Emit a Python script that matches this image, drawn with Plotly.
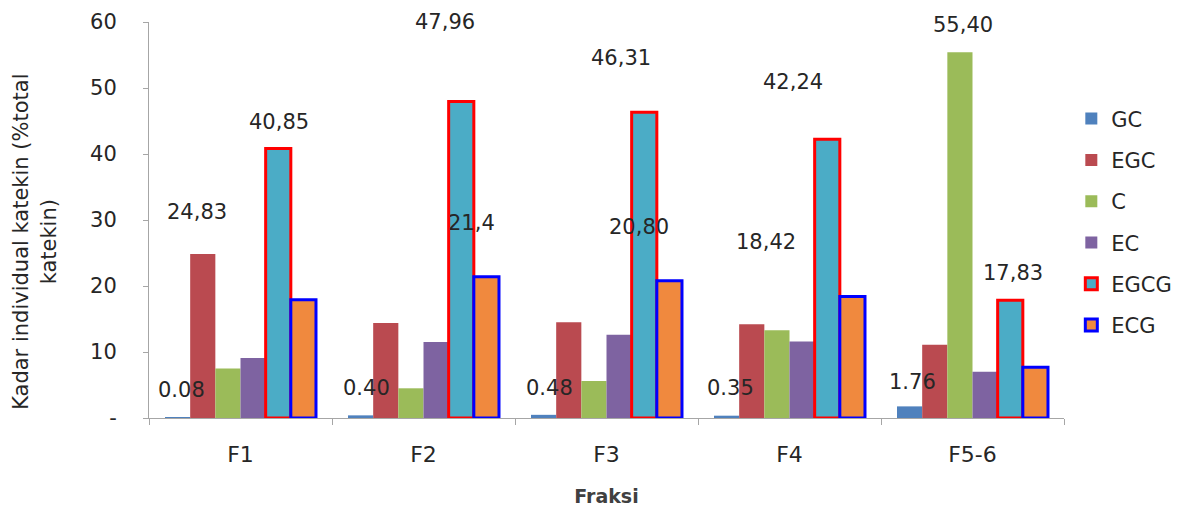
import plotly.graph_objects as go

categories = ["F1", "F2", "F3", "F4", "F5-6"]

gc = [0.08, 0.40, 0.48, 0.35, 1.76]
egc = [24.83, 14.4, 14.5, 14.2, 11.1]
c = [7.5, 4.5, 5.6, 13.3, 55.40]
ec = [9.1, 11.5, 12.6, 11.6, 7.0]
egcg = [40.85, 47.96, 46.31, 42.24, 17.83]
ecg = [17.9, 21.4, 20.80, 18.42, 7.7]

series_names = ["GC", "EGC", "C", "EC", "EGCG", "ECG"]

# Data labels shown in the original (text, category index, x offset, y position)
label_texts = ["0.08", "24,83", "40,85",
               "0.40", "47,96", "21,4",
               "0.48", "46,31", "20,80",
               "0.35", "42,24", "18,42",
               "1.76", "55,40", "17,83"]
label_cat = [0, 0, 0, 1, 1, 1, 2, 2, 2, 3, 3, 3, 4, 4, 4]
label_dx = [-0.32, -0.24, 0.21, -0.31, 0.12, 0.26, -0.31, 0.08, 0.18,
            -0.32, 0.02, -0.13, -0.33, -0.05, 0.22]
label_y = [4.2, 31.2, 44.8, 4.5, 60.0, 29.5, 4.5, 54.5, 28.9,
           4.5, 50.9, 26.7, 5.4, 59.5, 22.0]

yticks = [0, 10, 20, 30, 40, 50, 60]
yticktext = ["-", "10", "20", "30", "40", "50", "60"]

fills = ["#4F81BD", "#BA4A50", "#9BBB59", "#7E63A1", "#4BACC6", "#F0893E"]
borders = [None, None, None, None, "#FF0000", "#0000FF"]

FONT = "DejaVu Sans"

fig = go.Figure()
for name, vals, fc, bc in zip(series_names, [gc, egc, c, ec, egcg, ecg], fills, borders):
    marker = dict(color=fc)
    if bc:
        marker["line"] = dict(color=bc, width=3)
    else:
        marker["line"] = dict(width=0)
    fig.add_trace(go.Bar(x=categories, y=vals, name=name, marker=marker,
                         legendgroup=name))

for t, ci, dx, yy in zip(label_texts, label_cat, label_dx, label_y):
    fig.add_annotation(x=ci + dx, y=yy, xref="x", yref="y", text=t,
                       showarrow=False, font=dict(family=FONT, size=21, color="#262626"))

# y-axis title as rotated text
fig.add_annotation(xref="paper", yref="paper", x=-0.155, y=0.444,
                   xanchor="left", yanchor="middle",
                   text="Kadar individual katekin (%total<br>katekin)",
                   textangle=-90, showarrow=False,
                   font=dict(family=FONT, size=21, color="#262626"))

fig.update_layout(
    width=1179, height=510,
    margin=dict(l=141, r=123, t=14, b=100, autoexpand=False),
    paper_bgcolor="white", plot_bgcolor="white",
    barmode="group", bargap=0.175, bargroupgap=0,
    font=dict(family=FONT, color="#404040"),
    legend=dict(x=1.008, y=0.807, xanchor="left", yanchor="top",
                font=dict(family=FONT, size=21, color="#262626"),
                traceorder="grouped", tracegroupgap=11,
                bgcolor="rgba(0,0,0,0)"),
    xaxis=dict(type="category", showline=True, linecolor="#A6A6A6", linewidth=1,
               ticks="outside", tickson="boundaries", ticklen=6, tickcolor="#A6A6A6",
               ticklabelstandoff=17, automargin=False,
               tickfont=dict(family=FONT, size=22, color="#262626"),
               title=dict(text="<b>Fraksi</b>", font=dict(family=FONT, size=19, color="#404040"),
                          standoff=23),
               showgrid=False),
    yaxis=dict(range=[0, 60], tickvals=yticks, ticktext=yticktext,
               showline=True, linecolor="#A6A6A6", linewidth=1,
               ticks="outside", ticklen=5, tickcolor="#A6A6A6",
               ticklabelstandoff=22, automargin=False,
               tickfont=dict(family=FONT, size=21, color="#262626"),
               showgrid=False, zeroline=False),
)

fig.write_html("out.html")
